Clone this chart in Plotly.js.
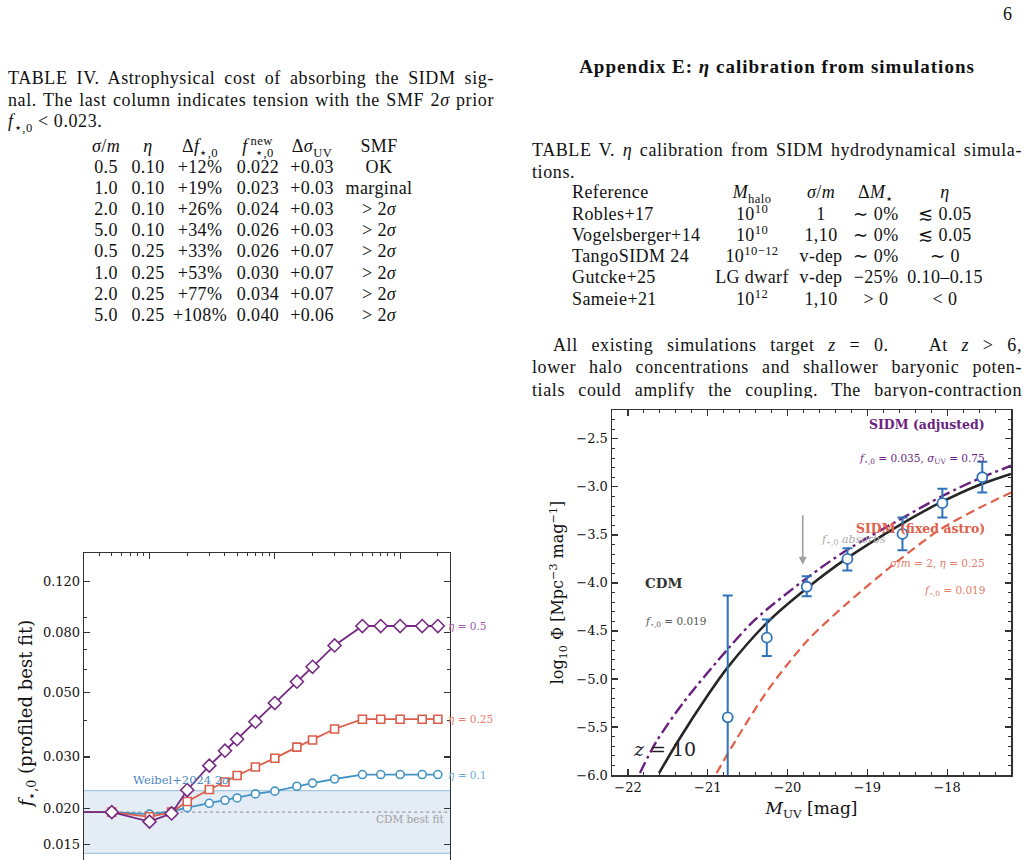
<!DOCTYPE html>
<html>
<head>
<meta charset="utf-8">
<script src="https://cdn.plot.ly/plotly-3.0.1.min.js"></script>
<style>
  html, body { margin: 0; padding: 0; background: #fff; }
  body { width: 1028px; height: 860px; overflow: hidden; position: relative;
         font-family: "Liberation Serif", serif; color: #111; }
  .ln { position: absolute; font-size: 18px; line-height: 22px; white-space: nowrap; letter-spacing: 0.6px; }
  .just { text-align: justify; text-align-last: justify; white-space: normal; }
  .cell { position: absolute; transform: translateX(-50%); font-size: 18px; line-height: 22px;
          white-space: nowrap; letter-spacing: 0.4px; }
  .cellL { position: absolute; font-size: 18px; line-height: 22px; white-space: nowrap; letter-spacing: 0.4px; }
  sup, sub { font-size: 70%; line-height: 0; }
  #fig1 { position: absolute; left: 0; top: 500px; width: 520px; height: 420px; }
  #fig2 { position: absolute; left: 530px; top: 398px; width: 498px; height: 462px; }
  #para { position: absolute; left: 532px; top: 334px; width: 490px; height: 64px; overflow: hidden; }
</style>
</head>
<body>

<div class="ln" style="left:1003px; top:3px;">6</div>

<!-- Table IV caption -->
<div class="ln just" style="left:8px; top:67px; width:486px;">TABLE IV. Astrophysical cost of absorbing the SIDM sig-</div>
<div class="ln just" style="left:8px; top:89px; width:486px;">nal. The last column indicates tension with the SMF 2<i>σ</i> prior</div>
<div class="ln" style="left:8px; top:110px;"><i>f</i><sub>⋆,0</sub> &lt; 0.023.</div>
<div id="tab4"></div>

<!-- Appendix heading and Table V -->
<div class="ln" style="left:777px; top:56px; transform:translateX(-50%); font-weight:bold; font-size:19px; letter-spacing:1px;">Appendix E: <i>η</i> calibration from simulations</div>
<div class="ln just" style="left:532px; top:139px; width:490px;">TABLE V. <i>η</i> calibration from SIDM hydrodynamical simula-</div>
<div class="ln" style="left:532px; top:161px;">tions.</div>
<div id="tab5"></div>

<div id="para">
  <div class="ln just" style="left:21px; top:0px; width:469px;">All existing simulations target <i>z</i> = 0.&nbsp;&nbsp; At <i>z</i> &gt; 6,</div>
  <div class="ln just" style="left:0px; top:22px; width:490px;">lower halo concentrations and shallower baryonic poten-</div>
  <div class="ln just" style="left:0px; top:45px; width:490px;">tials could amplify the coupling. The baryon-contraction</div>
</div>

<div id="fig1"></div>
<div id="fig2"></div>

<script>
// ---------------- Table IV: astrophysical cost ----------------
const tab4Header = ["<i>σ</i>/<i>m</i>", "<i>η</i>", "Δ<i>f</i><sub>⋆,0</sub>",
                    "<i>f</i><sup>&thinsp;new</sup><sub style='margin-left:-1.4em'>⋆,0</sub>",
                    "Δ<i>σ</i><sub>UV</sub>", "SMF"];
const tab4Sigma  = ["0.5", "1.0", "2.0", "5.0", "0.5", "1.0", "2.0", "5.0"];
const tab4Eta    = ["0.10", "0.10", "0.10", "0.10", "0.25", "0.25", "0.25", "0.25"];
const tab4DeltaF = ["+12%", "+19%", "+26%", "+34%", "+33%", "+53%", "+77%", "+108%"];
const tab4FNew   = ["0.022", "0.023", "0.024", "0.026", "0.026", "0.030", "0.034", "0.040"];
const tab4DSigma = ["+0.03", "+0.03", "+0.03", "+0.03", "+0.07", "+0.07", "+0.07", "+0.06"];
const tab4SMF    = ["OK", "marginal", "&gt; 2<i>σ</i>", "&gt; 2<i>σ</i>", "&gt; 2<i>σ</i>",
                    "&gt; 2<i>σ</i>", "&gt; 2<i>σ</i>", "&gt; 2<i>σ</i>"];

// ---------------- Table V: eta calibration ----------------
const tab5Header = ["Reference", "<i>M</i><sub>halo</sub>", "<i>σ</i>/<i>m</i>", "Δ<i>M</i><sub>⋆</sub>", "<i>η</i>"];
const tab5Ref    = ["Robles+17", "Vogelsberger+14", "TangoSIDM 24", "Gutcke+25", "Sameie+21"];
const tab5Mhalo  = ["10<sup>10</sup>", "10<sup>10</sup>", "10<sup>10−12</sup>", "LG dwarf", "10<sup>12</sup>"];
const tab5Sigma  = ["1", "1,10", "v-dep", "v-dep", "1,10"];
const tab5DMstar = ["∼ 0%", "∼ 0%", "∼ 0%", "−25%", "&gt; 0"];
const tab5Eta    = ["≲ 0.05", "≲ 0.05", "∼ 0", "0.10–0.15", "&lt; 0"];

function placeCell(parent, html, x, yCenter, cls) {
  const d = document.createElement("div");
  d.className = cls || "cell";
  d.style.left = x + "px";
  d.style.top = (yCenter - 11) + "px";
  d.innerHTML = html;
  parent.appendChild(d);
}

(function buildTables() {
  const t4 = document.getElementById("tab4");
  const t4Cols = [106, 148, 200, 258, 312, 379];
  t4Cols.forEach((cx, i) => placeCell(t4, tab4Header[i], cx, 146));
  const t4Data = [tab4Sigma, tab4Eta, tab4DeltaF, tab4FNew, tab4DSigma, tab4SMF];
  for (let r = 0; r < tab4Sigma.length; r++) {
    const y = 167 + r * 21.1;
    t4Data.forEach((col, i) => placeCell(t4, col[r], t4Cols[i], y));
  }

  const t5 = document.getElementById("tab5");
  const t5Cols = [752, 821, 876, 945];
  placeCell(t5, tab5Header[0], 572, 192, "cellL");
  t5Cols.forEach((cx, i) => placeCell(t5, tab5Header[i + 1], cx, 192));
  const t5Data = [tab5Mhalo, tab5Sigma, tab5DMstar, tab5Eta];
  for (let r = 0; r < tab5Ref.length; r++) {
    const y = 213.5 + r * 21.3;
    placeCell(t5, tab5Ref[r], 572, y, "cellL");
    t5Data.forEach((col, i) => placeCell(t5, col[r], t5Cols[i], y));
  }
})();

// ---------------- Figure: profiled f_*,0 vs sigma/m ----------------
const sigmaOverM = [0.01, 0.05, 0.1, 0.15, 0.2, 0.3, 0.4, 0.5, 0.7, 1, 1.5, 2, 3, 5, 7, 10, 15, 20];
const fstarEta01  = [0.0194, 0.0194, 0.0191, 0.0195, 0.0201, 0.0208, 0.0213, 0.0217, 0.0224, 0.0229,
                     0.0238, 0.0244, 0.0252, 0.0261, 0.0261, 0.0261, 0.0261, 0.0261];
const fstarEta025 = [0.0194, 0.0194, 0.0187, 0.0194, 0.0211, 0.0232, 0.0246, 0.0259, 0.0277, 0.0297,
                     0.0324, 0.0343, 0.0374, 0.0404, 0.0404, 0.0404, 0.0404, 0.0404];
const fstarEta05  = [0.0194, 0.0194, 0.0180, 0.0192, 0.0231, 0.0280, 0.0315, 0.0345, 0.0396, 0.0459,
                     0.0543, 0.0611, 0.0723, 0.0843, 0.0843, 0.0843, 0.0843, 0.0843];
const cdmBestFit = 0.0194;
const weibelLow = 0.014, weibelHigh = 0.023;
const bandX = [0.01, 100];
const fTickVals = [0.015, 0.020, 0.030, 0.050, 0.080, 0.120];
const fTickText = ["0.015", "0.020", "0.030", "0.050", "0.080", "0.120"];
const fMinorVals = [0.04, 0.06, 0.07, 0.09];
const sTickVals = [0.1, 1, 10];
const sMinorVals = [0.03, 0.04, 0.05, 0.06, 0.07, 0.08, 0.09, 0.2, 0.3, 0.4, 0.5, 0.6, 0.7, 0.8, 0.9,
                    2, 3, 4, 5, 6, 7, 8, 9, 20];

const C_BLUE = "#4393c3", C_RED = "#dc5c4a", C_PURPLE = "#762a83";
const serif = "DejaVu Serif, serif";

const fig1Traces = [
  { x: bandX, y: [weibelLow, weibelLow], mode: "lines", line: { color: "#a9c8e3", width: 1.3 },
    hoverinfo: "skip", showlegend: false },
  { x: bandX, y: [weibelHigh, weibelHigh], mode: "lines", line: { color: "#a9c8e3", width: 1.3 },
    fill: "tonexty", fillcolor: "#e4ecf5", hoverinfo: "skip", showlegend: false },
  { x: bandX, y: [cdmBestFit, cdmBestFit], mode: "lines", line: { color: "#9a9a9a", width: 1.1, dash: "dot" },
    showlegend: false },
  { x: sigmaOverM, y: fstarEta01, mode: "lines+markers", name: "η = 0.1",
    line: { color: C_BLUE, width: 1.8 },
    marker: { symbol: "circle", size: 8, color: "#fff", line: { width: 1.6, color: C_BLUE } } },
  { x: sigmaOverM, y: fstarEta025, mode: "lines+markers", name: "η = 0.25",
    line: { color: C_RED, width: 1.8 },
    marker: { symbol: "square", size: 8, color: "#fff", line: { width: 1.6, color: C_RED } } },
  { x: sigmaOverM, y: fstarEta05, mode: "lines+markers", name: "η = 0.5",
    line: { color: C_PURPLE, width: 1.8 },
    marker: { symbol: "diamond", size: 10, color: "#fff", line: { width: 1.6, color: C_PURPLE } } }
];

const L = Math.log10;
const fig1Layout = {
  width: 520, height: 420,
  margin: { l: 84, r: 70, t: 53, b: 47 },
  paper_bgcolor: "rgba(0,0,0,0)", plot_bgcolor: "#fff",
  showlegend: false,
  font: { family: serif, size: 13, color: "#111" },
  xaxis: {
    type: "log", range: [L(0.03), L(25)],
    tickmode: "array", tickvals: sTickVals, showticklabels: false,
    ticks: "inside", ticklen: 6, tickwidth: 1.2, tickcolor: "#333",
    minor: { tickmode: "array", tickvals: sMinorVals, ticks: "inside", ticklen: 3, tickwidth: 1, tickcolor: "#333" },
    showline: true, linecolor: "#333", linewidth: 1.3, mirror: "allticks",
    showgrid: false, zeroline: false
  },
  yaxis: {
    type: "log", range: [L(0.012), L(0.15)],
    tickmode: "array", tickvals: fTickVals, ticktext: fTickText,
    ticks: "inside", ticklen: 6, tickwidth: 1.2, tickcolor: "#333",
    minor: { tickmode: "array", tickvals: fMinorVals, ticks: "inside", ticklen: 3, tickwidth: 1, tickcolor: "#333" },
    showline: true, linecolor: "#333", linewidth: 1.3, mirror: "allticks",
    showgrid: false, zeroline: false,
    title: { text: "<i>f</i><sub>⋆,0</sub> (profiled best fit)", font: { family: serif, size: 18 }, standoff: 5 }
  },
  annotations: [
    { xref: "x", yref: "y", x: L(0.0705), y: L(0.0250), text: "Weibel+2024 2<i>σ</i>",
      showarrow: false, xanchor: "left", yanchor: "middle", font: { family: serif, size: 11.5, color: "#4f86c0" } },
    { xref: "paper", yref: "y", x: 0.99, y: L(0.0184), text: "CDM best fit",
      showarrow: false, xanchor: "right", yanchor: "middle", font: { family: serif, size: 10.5, color: "#a0a0a0" } },
    { xref: "paper", yref: "y", x: 1, xshift: -4, y: L(fstarEta05[fstarEta05.length - 1]), text: "<i>η</i> = 0.5",
      showarrow: false, xanchor: "left", yanchor: "middle", font: { family: serif, size: 10.5, color: "#9a5aa8" } },
    { xref: "paper", yref: "y", x: 1, xshift: -4, y: L(fstarEta025[fstarEta025.length - 1]), text: "<i>η</i> = 0.25",
      showarrow: false, xanchor: "left", yanchor: "middle", font: { family: serif, size: 10.5, color: "#e3806f" } },
    { xref: "paper", yref: "y", x: 1, xshift: -4, y: L(fstarEta01[fstarEta01.length - 1]), text: "<i>η</i> = 0.1",
      showarrow: false, xanchor: "left", yanchor: "middle", font: { family: serif, size: 10.5, color: "#6aaed8" } }
  ]
};

Plotly.newPlot("fig1", fig1Traces, fig1Layout, { staticPlot: true, displayModeBar: false });

// ---------------- Figure: UV luminosity function at z = 10 ----------------
const muvObs    = [-20.75, -20.26, -19.76, -19.25, -18.56, -18.06, -17.56];
const phiObs    = [-5.40, -4.57, -4.04, -3.75, -3.49, -3.17, -2.90];
const phiErrUp  = [1.27, 0.19, 0.11, 0.11, 0.17, 0.15, 0.16];
const phiErrLo  = [1.20, 0.19, 0.10, 0.12, 0.17, 0.15, 0.16];

const muvCDM  = [-21.61, -21.36, -21.0, -20.75, -20.24, -19.75, -19.25, -18.6, -18.1, -17.6, -17.2];
const phiCDM  = [-5.98, -5.63, -5.17, -4.88, -4.40, -4.05, -3.74, -3.40, -3.17, -2.98, -2.865];
const muvAdj  = [-21.85, -21.65, -21.3, -20.75, -20.41, -19.76, -19.26, -18.55, -18.05, -17.56, -17.2];
const phiAdj  = [-5.98, -5.66, -5.24, -4.69, -4.385, -3.95, -3.66, -3.32, -3.09, -2.90, -2.78];
const muvFix  = [-20.89, -20.65, -20.25, -19.75, -19.25, -18.6, -18.1, -17.6, -17.2];
const phiFix  = [-5.98, -5.64, -5.12, -4.60, -4.21, -3.76, -3.45, -3.22, -3.06];

const xTicks = [-22, -21, -20, -19, -18];
const xTickText = ["−22", "−21", "−20", "−19", "−18"];
const yTicks = [-6.0, -5.5, -5.0, -4.5, -4.0, -3.5, -3.0, -2.5];
const yTickText = ["−6.0", "−5.5", "−5.0", "−4.5", "−4.0", "−3.5", "−3.0", "−2.5"];

const C_OBS = "#2f73b8", C_ADJ = "#6a1f7f", C_FIX = "#e0604a", C_CDM = "#262626";

const fig2Traces = [
  { x: muvFix, y: phiFix, mode: "lines", line: { color: C_FIX, width: 2.2, dash: "9px,5px", shape: "spline", smoothing: 0.8 },
    name: "SIDM (fixed astro)" },
  { x: muvCDM, y: phiCDM, mode: "lines", line: { color: C_CDM, width: 2.6, shape: "spline", smoothing: 0.8 }, name: "CDM" },
  { x: muvAdj, y: phiAdj, mode: "lines", line: { color: C_ADJ, width: 2.4, dash: "12px,4px,3px,4px", shape: "spline", smoothing: 0.8 },
    name: "SIDM (adjusted)" },
  { x: muvObs, y: phiObs, mode: "markers", name: "data",
    marker: { symbol: "circle", size: 10, color: "#fff", line: { width: 1.8, color: C_OBS } },
    error_y: { type: "data", symmetric: false, array: phiErrUp, arrayminus: phiErrLo,
               color: C_OBS, thickness: 2, width: 5 } }
];

const fig2Layout = {
  width: 498, height: 462,
  margin: { l: 82, r: 17, t: 12, b: 85 },
  paper_bgcolor: "#fff", plot_bgcolor: "#fff",
  showlegend: false,
  font: { family: serif, size: 13, color: "#111" },
  xaxis: {
    range: [-22.2, -17.2], tickmode: "array", tickvals: xTicks, ticktext: xTickText,
    ticks: "inside", ticklen: 6, tickwidth: 1.3, tickcolor: "#333",
    minor: { dtick: 0.2, tick0: 0, ticks: "inside", ticklen: 3, tickwidth: 1, tickcolor: "#333" },
    showline: true, linecolor: "#333", linewidth: 1.5, mirror: "allticks",
    showgrid: false, zeroline: false,
    title: { text: "<i>M</i><sub>UV</sub> [mag]", font: { family: serif, size: 17 }, standoff: 8 }
  },
  yaxis: {
    range: [-6.0, -2.2], tickmode: "array", tickvals: yTicks, ticktext: yTickText,
    ticks: "inside", ticklen: 6, tickwidth: 1.3, tickcolor: "#333",
    minor: { dtick: 0.1, tick0: 0, ticks: "inside", ticklen: 3, tickwidth: 1, tickcolor: "#333" },
    showline: true, linecolor: "#333", linewidth: 1.5, mirror: "allticks",
    showgrid: false, zeroline: false,
    title: { text: "log<sub>10</sub> Φ [Mpc<sup>−3</sup> mag<sup>−1</sup>]", font: { family: serif, size: 16 }, standoff: 8 }
  },
  annotations: [
    { x: -19.81, y: -3.81, ax: -19.81, ay: -3.28, xref: "x", yref: "y", axref: "x", ayref: "y",
      text: "", showarrow: true, arrowhead: 2, arrowsize: 1, arrowwidth: 1.6, arrowcolor: "#a0a0a0" },
    { x: -19.6, y: -3.55, text: "<i>f</i><sub>⋆,0</sub> <i>absorbs</i>", showarrow: false,
      xanchor: "left", yanchor: "middle", font: { family: serif, size: 11, color: "#a8a8a8" } },
    { x: -17.5, y: -2.35, text: "<b>SIDM (adjusted)</b>", showarrow: false, xanchor: "right", yanchor: "middle",
      font: { family: serif, size: 12.5, color: C_ADJ } },
    { x: -17.5, y: -2.71, text: "<i>f</i><sub>⋆,0</sub> = 0.035, <i>σ</i><sub>UV</sub> = 0.75", showarrow: false,
      xanchor: "right", yanchor: "middle", font: { family: serif, size: 10.5, color: C_ADJ } },
    { x: -17.5, y: -3.43, text: "<b>SIDM (fixed astro)</b>", showarrow: false, xanchor: "right", yanchor: "middle",
      font: { family: serif, size: 12.5, color: C_FIX } },
    { x: -17.5, y: -3.79, text: "<i>σ</i>/<i>m</i> = 2, <i>η</i> = 0.25", showarrow: false,
      xanchor: "right", yanchor: "middle", font: { family: serif, size: 10.5, color: "#e57d6b" } },
    { x: -17.5, y: -4.08, text: "<i>f</i><sub>⋆,0</sub> = 0.019", showarrow: false,
      xanchor: "right", yanchor: "middle", font: { family: serif, size: 10.5, color: "#e57d6b" } },
    { x: -21.81, y: -4.0, text: "<b>CDM</b>", showarrow: false, xanchor: "left", yanchor: "middle",
      font: { family: serif, size: 13.5, color: "#333" } },
    { x: -21.81, y: -4.41, text: "<i>f</i><sub>⋆,0</sub> = 0.019", showarrow: false, xanchor: "left", yanchor: "middle",
      font: { family: serif, size: 10.5, color: "#555" } },
    { x: -21.96, y: -5.73, text: "<i>z</i> = 10", showarrow: false, xanchor: "left", yanchor: "middle",
      font: { family: serif, size: 19, color: "#222" } }
  ]
};

Plotly.newPlot("fig2", fig2Traces, fig2Layout, { staticPlot: true, displayModeBar: false });
</script>
</body>
</html>
